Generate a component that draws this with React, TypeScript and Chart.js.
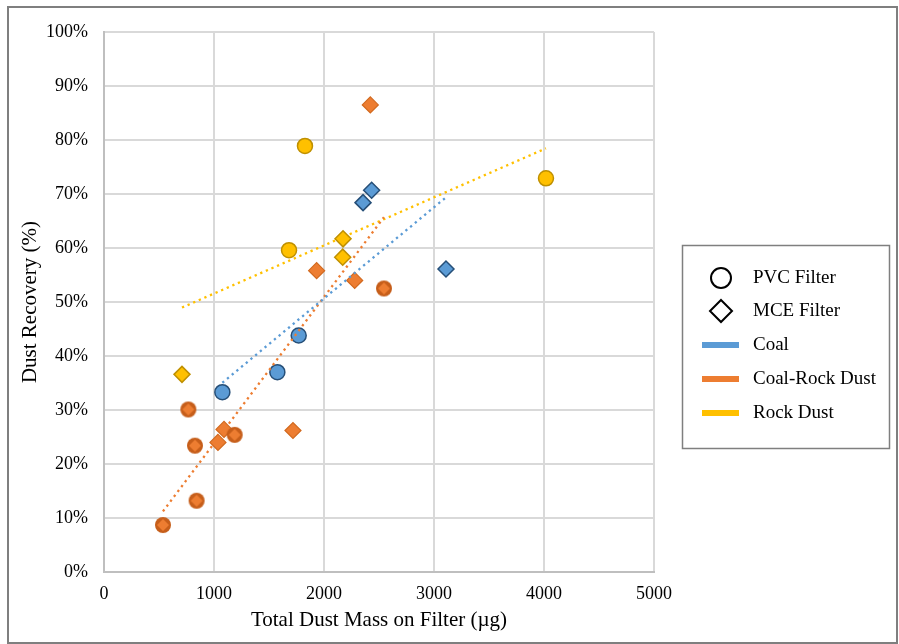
import { useEffect, useRef } from 'react';
import { Chart, registerables } from 'chart.js';

Chart.register(...registerables);

// ---- Data (x: total dust mass µg, y: dust recovery %) ----
const coalPvcX = [1076, 1576, 1770];
const coalPvcY = [33.3, 37.0, 43.8];
const coalMceX = [2355, 2433, 3109];
const coalMceY = [68.4, 70.7, 56.1];

const coalRockPvcX = [536, 767, 827, 842, 1188, 2545];
const coalRockPvcY = [8.7, 30.1, 23.4, 13.2, 25.4, 52.5];
const coalRockMceX = [1036, 1091, 1718, 1933, 2279, 2421];
const coalRockMceY = [24.0, 26.4, 26.2, 55.8, 54.0, 86.5];

const rockPvcX = [1682, 1827, 4018];
const rockPvcY = [59.6, 78.9, 72.9];
const rockMceX = [709, 2170, 2173];
const rockMceY = [36.6, 58.3, 61.7];

const xTicks = [0, 1000, 2000, 3000, 4000, 5000];
const yTicks = [0, 10, 20, 30, 40, 50, 60, 70, 80, 90, 100];

const legendLabels = ['PVC Filter', 'MCE Filter', 'Coal', 'Coal-Rock Dust', 'Rock Dust'];
const xTitle = 'Total Dust Mass on Filter (µg)';
const yTitle = 'Dust Recovery (%)';

const BLUE = '#5B9BD5';
const ORANGE = '#ED7D31';
const YELLOW = '#FFC000';
const FONT = '"Liberation Serif", "Times New Roman", serif';

function pairs(xs: number[], ys: number[]) {
  return xs.map((x, i) => ({ x, y: ys[i] }));
}

function trend(xs: number[], ys: number[]) {
  const n = xs.length;
  const mx = xs.reduce((a, b) => a + b, 0) / n;
  const my = ys.reduce((a, b) => a + b, 0) / n;
  let sxy = 0;
  let sxx = 0;
  for (let i = 0; i < n; i++) {
    sxy += (xs[i] - mx) * (ys[i] - my);
    sxx += (xs[i] - mx) * (xs[i] - mx);
  }
  const slope = sxy / sxx;
  const minX = Math.min(...xs);
  const maxX = Math.max(...xs);
  return [
    { x: minX, y: my + slope * (minX - mx) },
    { x: maxX, y: my + slope * (maxX - mx) },
  ];
}

function makeRingMarker() {
  const c = document.createElement('canvas');
  c.width = 18;
  c.height = 18;
  const g = c.getContext('2d')!;
  g.beginPath();
  g.arc(9, 9, 8, 0, Math.PI * 2);
  g.fillStyle = '#C65E1A';
  g.fill();
  g.beginPath();
  g.moveTo(9, 3);
  g.lineTo(15, 9);
  g.lineTo(9, 15);
  g.lineTo(3, 9);
  g.closePath();
  g.fillStyle = ORANGE;
  g.fill();
  return c;
}

const boxLegend = {
  id: 'boxLegend',
  afterDraw(chart: any) {
    const ctx = chart.ctx as CanvasRenderingContext2D;
    ctx.save();
    // outer frame
    ctx.strokeStyle = '#7f7f7f';
    ctx.lineWidth = 2;
    ctx.strokeRect(8, 7, 889, 636);
    // legend frame
    ctx.lineWidth = 1.5;
    ctx.strokeRect(682.5, 245.5, 207, 203);

    const iconX = 721;
    const textX = 753;
    const rows = [278, 311, 345, 379, 413];
    // circle icon
    ctx.strokeStyle = '#000';
    ctx.lineWidth = 2;
    ctx.beginPath();
    ctx.arc(iconX, rows[0], 10, 0, Math.PI * 2);
    ctx.stroke();
    // diamond icon
    ctx.beginPath();
    ctx.moveTo(iconX, rows[1] - 11);
    ctx.lineTo(iconX + 11, rows[1]);
    ctx.lineTo(iconX, rows[1] + 11);
    ctx.lineTo(iconX - 11, rows[1]);
    ctx.closePath();
    ctx.stroke();
    // line icons
    const cols = [BLUE, ORANGE, YELLOW];
    cols.forEach((col, i) => {
      ctx.strokeStyle = col;
      ctx.lineWidth = 6;
      ctx.beginPath();
      ctx.moveTo(702, rows[i + 2]);
      ctx.lineTo(739, rows[i + 2]);
      ctx.stroke();
    });
    ctx.fillStyle = '#000';
    ctx.font = `19px ${FONT}`;
    ctx.textBaseline = 'middle';
    ctx.textAlign = 'left';
    legendLabels.forEach((t, i) => ctx.fillText(t, textX, rows[i]));
    ctx.restore();
  },
};

export default function App() {
  const ref = useRef<HTMLCanvasElement>(null);

  useEffect(() => {
    document.body.style.margin = '0';
    if (!ref.current) return;
    const ring = makeRingMarker();

    const trendDs = (xs: number[], ys: number[], color: string) => ({
      data: trend(xs, ys),
      showLine: true,
      pointRadius: 0,
      borderColor: color,
      borderWidth: 2.3,
      borderDash: [2.3, 3.8],
      fill: false,
      order: 0,
    });

    const chart = new Chart(ref.current, {
      type: 'scatter',
      data: {
        datasets: [
          trendDs([...coalPvcX, ...coalMceX], [...coalPvcY, ...coalMceY], BLUE),
          trendDs([...coalRockPvcX, ...coalRockMceX], [...coalRockPvcY, ...coalRockMceY], ORANGE),
          trendDs([...rockPvcX, ...rockMceX], [...rockPvcY, ...rockMceY], YELLOW),
          {
            data: pairs(coalPvcX, coalPvcY),
            pointStyle: 'circle',
            pointRadius: 7.5,
            backgroundColor: BLUE,
            borderColor: '#264F78',
            borderWidth: 1.5,
            order: 1,
          },
          {
            data: pairs(coalMceX, coalMceY),
            pointStyle: 'rectRot',
            pointRadius: 8,
            backgroundColor: BLUE,
            borderColor: '#264F78',
            borderWidth: 1.5,
            order: 1,
          },
          {
            data: pairs(coalRockPvcX, coalRockPvcY),
            pointStyle: ring as any,
            pointRadius: 8,
            backgroundColor: ORANGE,
            borderColor: '#C65E1A',
            order: 1,
          },
          {
            data: pairs(coalRockMceX, coalRockMceY),
            pointStyle: 'rectRot',
            pointRadius: 8,
            backgroundColor: ORANGE,
            borderColor: '#D2691E',
            borderWidth: 1.2,
            order: 1,
          },
          {
            data: pairs(rockPvcX, rockPvcY),
            pointStyle: 'circle',
            pointRadius: 7.5,
            backgroundColor: YELLOW,
            borderColor: '#BF9000',
            borderWidth: 1.5,
            order: 1,
          },
          {
            data: pairs(rockMceX, rockMceY),
            pointStyle: 'rectRot',
            pointRadius: 8,
            backgroundColor: YELLOW,
            borderColor: '#BF9000',
            borderWidth: 1.5,
            order: 1,
          },
        ] as any,
      },
      options: {
        responsive: false,
        animation: false,
        layout: { padding: { top: 32, right: 245, left: 0, bottom: 0 } },
        plugins: {
          legend: { display: false },
          tooltip: { enabled: false },
        },
        scales: {
          x: {
            type: 'linear',
            min: 0,
            max: 5000,
            afterBuildTicks: (s: any) => {
              s.ticks = xTicks.map((v) => ({ value: v }));
            },
            afterFit: (s: any) => {
              s.height = 72;
            },
            ticks: {
              color: '#000',
              padding: 11,
              font: { family: FONT, size: 18 },
              callback: (v: any) => String(v),
            },
            grid: { color: '#d9d9d9', lineWidth: 2, drawTicks: false },
            border: { color: '#bfbfbf', width: 2 },
            title: {
              display: true,
              text: xTitle,
              color: '#000',
              font: { family: FONT, size: 21 },
              padding: { top: 0, bottom: 11 },
            },
          },
          y: {
            type: 'linear',
            min: 0,
            max: 100,
            afterBuildTicks: (s: any) => {
              s.ticks = yTicks.map((v) => ({ value: v }));
            },
            afterFit: (s: any) => {
              s.width = 104;
            },
            ticks: {
              color: '#000',
              padding: 16,
              font: { family: FONT, size: 18 },
              callback: (v: any) => `${v}%`,
            },
            grid: { color: '#d9d9d9', lineWidth: 2, drawTicks: false },
            border: { color: '#bfbfbf', width: 2 },
            title: {
              display: true,
              text: yTitle,
              color: '#000',
              font: { family: FONT, size: 21 },
              padding: { top: 18, bottom: 0 },
            },
          },
        },
      } as any,
      plugins: [boxLegend],
    });

    return () => chart.destroy();
  }, []);

  return <canvas ref={ref} width={899} height={644} style={{ display: 'block' }} />;
}
